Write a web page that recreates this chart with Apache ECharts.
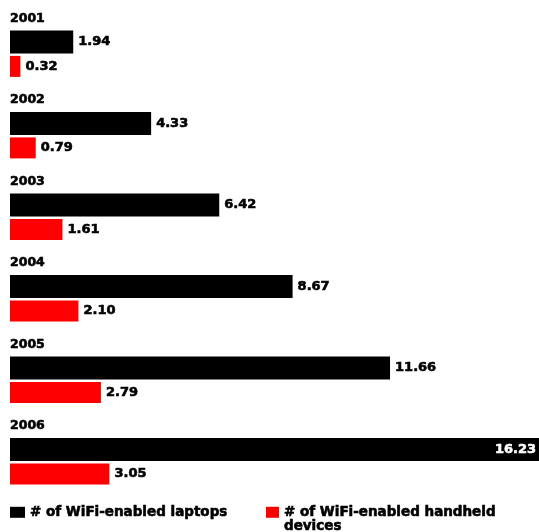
<!DOCTYPE html>
<html><head><meta charset="utf-8">
<script src="https://cdn.jsdelivr.net/npm/echarts@6/dist/echarts.min.js"></script>
<style>html,body{margin:0;padding:0;background:#fff}#c{width:539px;height:532px}</style>
</head><body><div id="c"></div>
<script>
var years = ['2001','2002','2003','2004','2005','2006'];
var laptops = [1.94, 4.33, 6.42, 8.67, 11.66, 16.23];
var handhelds = [0.32, 0.79, 1.61, 2.10, 2.79, 3.05];
var nameLaptops = '# of WiFi-enabled laptops';
var nameHandhelds = '# of WiFi-enabled handheld devices';

var font = 'DejaVu Sans';
var xMax = Math.max.apply(null, laptops);
function labelFor(v) {
  if (v === xMax) {
    return {value: v, label: {position: 'insideRight', color: '#fff', textBorderColor: '#fff', distance: 3}};
  }
  return v;
}
var heavy = {fontFamily: font, fontWeight: 'bold', color: '#000', textBorderColor: '#000', textBorderWidth: 0.6};
function st(extra) { return Object.assign({}, heavy, extra); }
var chart = echarts.init(document.getElementById('c'));
chart.setOption({
  backgroundColor: '#fff',
  animation: false,
  grid: {left: 10, right: 0, top: 13, bottom: 30},
  xAxis: {type: 'value', min: 0, max: xMax, show: false},
  yAxis: {
    type: 'category', data: years, inverse: true,
    axisLine: {show: false}, axisTick: {show: false},
    axisLabel: st({
      inside: true, margin: 0, align: 'left', verticalAlign: 'bottom',
      padding: [0, 0, 29, 0], fontSize: 12.5
    })
  },
  legend: [
    {data: [nameLaptops], left: 5, top: 500, itemWidth: 15, itemHeight: 11, itemGap: 4, padding: 5,
     icon: 'rect', textStyle: st({fontSize: 13.5})},
    {data: [nameHandhelds], left: 261, top: 486, itemWidth: 13, itemHeight: 11, padding: 5,
     icon: 'rect',
     formatter: function () { return ' \n# of WiFi-enabled handheld\ndevices'; },
     textStyle: st({fontSize: 13.5, lineHeight: 14})}
  ],
  series: [
    {name: nameLaptops, type: 'bar', data: laptops.map(labelFor), barWidth: 23, barGap: '10%',
     itemStyle: {color: '#000'},
     label: st({show: true, position: 'right', distance: 5, fontSize: 13})},
    {name: nameHandhelds, type: 'bar', data: handhelds, barWidth: 21,
     itemStyle: {color: '#ff0000'},
     label: st({show: true, position: 'right', distance: 5, fontSize: 13,
             formatter: function (p) { return p.value.toFixed(2); }})}
  ]
});
</script></body></html>
